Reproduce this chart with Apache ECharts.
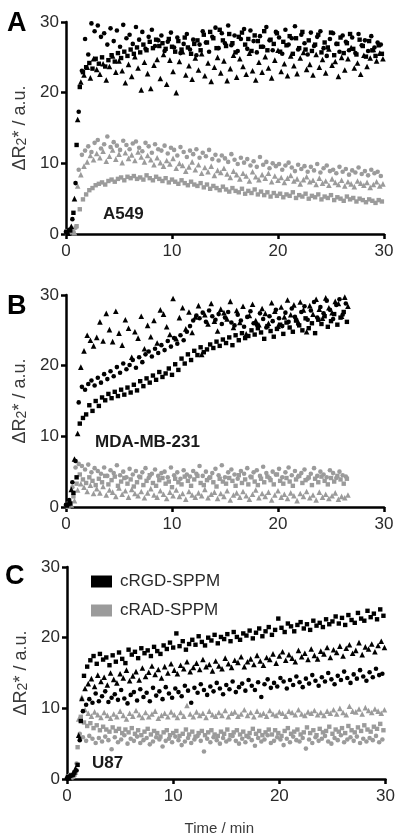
<!DOCTYPE html>
<html>
<head>
<meta charset="utf-8">
<script src="https://cdn.jsdelivr.net/npm/echarts/dist/echarts.min.js"></script>
<style>
  html, body { margin: 0; padding: 0; background: #fff; }
  #main { width: 398px; height: 839px; }
</style>
</head>
<body>
<div id="main"></div>
<script>
// sampling: one point every 0.3 min per series, markers staggered by 0.1 min
const STEP = 0.3;
const T0 = { circle: 0.0, rect: 0.1, triangle: 0.2 };

// ---- A549 ----
const blackCircleA = [
  0.3, 0.6, 2.1, 7.2, 17.3, 23.1, 27.6, 25.4, 29.8, 28.7,
  29.5, 27.9, 28.4, 26.8, 29.1, 27.3, 28.8, 26.5, 29.6, 27.7,
  28.2, 26.9, 29.3, 27.5, 28.6, 26.2, 27.9, 28.9, 26.6, 27.4,
  28.1, 25.9, 27.2, 28.5, 26.4, 27.8, 25.6, 26.9, 28.3, 26.1,
  27.5, 25.3, 26.8, 28.7, 27.1, 25.8, 27.9, 29.2, 26.3, 28.4,
  27.0, 29.5, 26.7, 28.1, 25.9, 27.6, 29.0, 26.2, 28.8, 27.3,
  25.7, 28.0, 26.5, 29.3, 27.4, 26.0, 28.6, 27.8, 25.5, 28.9,
  26.8, 27.7, 29.4, 26.1, 28.2, 27.0, 25.4, 28.5, 26.6, 27.9,
  28.7, 26.3, 25.2, 27.6, 28.4, 26.9, 25.8, 28.1, 27.2, 26.0,
  27.8, 25.6, 28.3, 26.7, 27.4, 25.9, 28.0, 26.4, 27.1, 26.8
];
const blackSquareA = [
  0.2, 0.5, 3.0, 12.6, 20.8, 22.9, 23.6, 24.2, 23.4, 24.8,
  24.1, 25.0, 23.7, 24.6, 25.3, 24.4, 25.6, 24.9, 25.8, 25.2,
  26.1, 25.5, 26.4, 25.7, 26.8, 26.0, 27.2, 26.3, 27.5, 26.6,
  27.0, 26.2, 27.6, 26.5, 25.8, 27.3, 26.1, 27.8, 26.4, 25.5,
  26.9, 27.4, 26.0, 28.2, 27.1, 28.6, 27.7, 26.3, 28.9, 27.4,
  26.6, 28.3, 27.0, 25.7, 27.9, 28.5, 26.8, 27.6, 25.9, 28.1,
  27.3, 26.5, 28.7, 26.0, 27.5, 26.9, 28.4, 25.8, 27.2, 26.7,
  28.0, 25.5, 27.7, 26.3, 28.6, 26.1, 27.4, 25.9, 26.8, 28.2,
  25.7, 27.1, 26.4, 28.5, 25.3, 26.9, 27.8, 25.6, 27.0, 28.3,
  26.2, 25.4, 27.5, 26.6, 25.1, 27.3, 26.0, 25.2, 26.7, 25.5
];
const blackTriangleA = [
  0.1, 1.1, 5.0, 16.2, 21.5, 22.5, 23.6, 22.1, 24.8, 23.3,
  22.6, 24.1, 21.8, 23.7, 25.2, 22.9, 24.5, 23.1, 21.4, 24.0,
  22.3, 25.1, 23.5, 20.4, 24.3, 22.7, 20.6, 23.9, 24.7, 22.0,
  25.4, 21.2, 24.6, 23.0, 20.0, 24.4, 25.8, 22.5, 23.8, 21.9,
  24.9, 23.2, 25.5, 22.4, 24.2, 21.6, 23.6, 25.0, 22.8, 24.5,
  21.7, 23.4, 25.3, 22.2, 24.8, 23.7, 22.6, 25.6, 23.1, 21.8,
  24.3, 22.9, 25.1, 23.5, 22.1, 24.6, 26.0, 23.0, 24.1, 22.4,
  25.2, 23.8, 22.7, 24.9, 25.7, 23.3, 24.0, 22.5, 25.4, 23.6,
  24.7, 22.8, 26.2, 23.9, 24.4, 22.3, 25.0, 23.2, 24.8, 26.4,
  23.5, 24.2, 22.6, 25.3, 23.7, 24.9, 26.1, 24.5, 25.6, 24.8
];
const grayCircleA = [
  0.4, 0.2, 0.6, 0.9, 9.1, 11.2, 11.8, 12.4, 11.6, 12.9,
  13.3, 12.1, 12.7, 13.8, 12.3, 13.0, 12.5, 11.9, 13.2, 12.6,
  12.0, 12.8, 13.1, 12.2, 11.7, 12.9, 12.4, 11.5, 12.7, 12.0,
  11.8, 12.5, 11.4, 12.2, 11.9, 11.1, 12.3, 11.6, 10.9, 11.8,
  11.3, 12.0, 10.8, 11.5, 11.0, 11.9, 10.6, 11.2, 10.4, 11.1,
  10.7, 10.2, 11.3, 10.5, 9.9, 10.8, 10.1, 10.6, 9.7, 10.3,
  9.5, 10.9, 9.8, 10.2, 9.3, 10.0, 9.6, 9.9, 9.1, 9.7,
  10.1, 9.4, 8.9, 9.8, 9.2, 9.6, 8.8, 9.5, 9.0, 9.9,
  8.7, 9.3, 9.7, 8.9, 9.1, 8.6, 9.5, 8.8, 9.2, 8.4,
  9.0, 8.7, 9.4, 8.5, 8.9, 8.3, 9.1, 8.6, 8.8, 8.2
];
const graySquareA = [
  0.1, 0.3, 0.2, 1.1, 3.5, 4.9, 5.6, 6.2, 6.5, 6.9,
  7.1, 7.3, 7.0, 7.5, 7.7, 7.4, 7.8, 8.0, 7.6, 8.1,
  7.9, 8.2, 7.8, 8.0, 7.7, 8.3, 7.9, 7.6, 8.1, 7.8,
  7.5, 7.9, 7.3, 7.7, 7.4, 7.1, 7.6, 7.2, 6.9, 7.4,
  7.0, 6.8, 7.2, 6.6, 7.0, 6.4, 6.8, 6.5, 6.2, 6.7,
  6.3, 6.0, 6.5, 6.1, 5.9, 6.4, 5.7, 6.1, 5.8, 6.3,
  5.6, 6.0, 5.5, 5.9, 5.3, 5.8, 5.4, 5.7, 5.2, 5.6,
  5.4, 5.9, 5.1, 5.5, 5.3, 5.7, 5.0, 5.4, 5.2, 5.6,
  4.9, 5.3, 5.1, 5.5, 4.8, 5.2, 5.0, 4.7, 5.3, 4.9,
  5.1, 4.6, 5.0, 4.8, 4.5, 4.9, 4.7, 4.4, 4.8, 4.6
];
const grayTriangleA = [
  0.3, 0.5, 0.2, 6.8, 8.4, 9.6, 10.2, 11.1, 10.5, 11.4,
  10.8, 11.7, 10.3, 11.0, 11.9, 10.6, 11.3, 10.1, 11.5, 10.7,
  11.2, 10.4, 11.6, 10.9, 10.2, 11.1, 10.5, 9.8, 10.8, 10.1,
  9.6, 10.4, 9.9, 10.7, 9.3, 10.0, 9.7, 8.9, 9.5, 10.2,
  9.1, 9.8, 8.6, 9.4, 8.8, 9.6, 8.3, 9.0, 8.7, 9.3,
  8.5, 8.0, 8.9, 8.4, 7.8, 8.6, 8.2, 7.5, 8.8, 8.1,
  7.7, 8.4, 7.9, 8.6, 7.4, 8.2, 7.6, 8.0, 7.3, 7.9,
  8.3, 7.5, 7.8, 7.1, 7.7, 8.1, 7.4, 7.6, 7.0, 7.9,
  7.2, 7.5, 6.9, 7.8, 7.3, 7.0, 7.6, 6.8, 7.4, 7.1,
  6.7, 7.5, 7.2, 6.9, 7.3, 6.6, 7.0, 7.4, 6.8, 7.1
];

// ---- MDA-MB-231 (recording stops ~26.6 min) ----
const blackCircleB = [
  0.3, 1.0, 3.5, 6.5, 14.8, 17.0, 16.6, 17.4, 17.9, 17.2,
  18.3, 17.6, 18.8, 18.1, 19.2, 18.5, 19.8, 19.0, 20.3, 19.5,
  20.1, 20.8, 19.7, 21.2, 20.5, 21.6, 22.0, 21.3, 22.4, 21.8,
  22.9, 22.2, 23.5, 22.7, 23.9, 23.1, 24.3, 23.6, 24.8, 25.6,
  26.4, 27.1, 26.7, 27.5, 26.2, 27.8, 27.0, 26.5, 27.3, 25.9,
  26.8, 27.6, 26.1, 25.7, 27.2, 26.4, 25.5, 26.9, 27.7, 26.0,
  25.8, 27.4, 26.6, 25.4, 27.0, 26.3, 27.9, 26.7, 25.6, 27.5,
  26.2, 28.1, 26.9, 25.9, 27.6, 28.4, 26.5, 27.8, 29.0, 26.8,
  28.3, 27.4, 29.2, 27.9, 26.6, 28.6, 29.4, 27.2, 28.8
];
const blackSquareB = [
  0.2, 0.5, 2.0, 4.2, 11.8, 12.6, 13.1, 14.4, 13.6, 15.0,
  14.3, 15.5, 15.1, 16.0, 15.4, 16.3, 15.7, 16.6, 15.9, 16.9,
  16.2, 17.3, 16.5, 17.8, 17.1, 18.2, 17.6, 18.6, 18.0, 19.1,
  18.4, 18.9, 19.6, 18.7, 20.2, 19.4, 21.0, 20.3, 21.6, 20.8,
  22.1, 21.5, 22.6, 21.9, 22.3, 23.0, 22.5, 23.4, 22.8, 23.7,
  23.2, 24.0, 22.9, 24.3, 23.6, 24.6, 23.9, 24.2, 25.0, 24.4,
  25.3, 24.7, 23.8, 25.6, 24.9, 24.1, 25.2, 25.8, 24.5, 26.1,
  25.4, 24.8, 26.4, 25.7, 25.0, 26.7, 25.3, 26.0, 24.6, 26.5,
  25.9, 27.0, 25.5, 26.3, 27.3, 25.8, 26.8, 27.6, 26.2
];
const blackTriangleB = [
  0.5, 2.5, 6.8, 10.4, 19.8, 22.1, 24.3, 23.6, 22.8, 24.0,
  26.2, 23.5, 27.4, 25.1, 23.4, 27.7, 24.6, 22.9, 26.5, 25.3,
  21.2, 24.8, 23.9, 27.0, 22.4, 25.7, 24.1, 26.4, 23.2, 27.9,
  27.3, 25.5, 24.4, 29.5, 23.8, 26.8, 28.2, 25.2, 27.6, 24.7,
  26.9, 28.5, 21.6, 27.2, 25.9, 28.8, 26.3, 24.9, 28.0, 27.5,
  26.6, 29.1, 25.4, 27.8, 26.1, 28.4, 24.5, 27.1, 28.7, 26.4,
  25.8, 28.1, 27.4, 26.0, 28.9, 27.7, 25.6, 28.3, 26.9, 29.3,
  27.2, 28.6, 26.5, 29.0, 27.9, 24.8, 28.5, 27.3, 29.4, 28.0,
  26.7, 29.6, 28.2, 27.5, 29.1, 28.8, 27.0, 29.7, 28.4
];
const grayCircleB = [
  0.3, 0.8, 2.8, 5.6, 6.1, 5.8, 5.3, 6.0, 4.9, 5.5,
  5.1, 4.7, 5.6, 4.4, 5.2, 4.8, 5.9, 4.5, 5.0, 4.2,
  5.4, 4.6, 5.1, 4.3, 4.9, 5.5, 4.1, 4.7, 5.3, 4.4,
  4.8, 5.0, 4.2, 5.6, 4.5, 4.9, 4.0, 5.2, 4.6, 4.3,
  5.1, 4.7, 5.8, 4.4, 5.0, 4.1, 4.8, 5.4, 4.5, 5.9,
  4.2, 4.9, 5.3, 4.6, 4.0, 5.1, 4.7, 5.5, 4.3, 4.9,
  5.2, 4.4, 5.7, 4.8, 4.1, 5.0, 4.6, 5.4, 4.2, 4.9,
  5.6, 4.5, 5.1, 4.3, 4.8, 5.3, 4.0, 4.7, 5.5, 4.4,
  5.0, 4.6, 4.2, 5.2, 4.8, 4.1, 5.0, 4.5, 4.3
];
const graySquareB = [
  0.2, 0.5, 1.5, 3.3, 4.6, 3.9, 3.4, 4.2, 3.7, 3.1,
  4.0, 3.5, 4.4, 3.2, 3.8, 4.3, 3.0, 3.6, 4.1, 3.3,
  3.9, 2.9, 3.5, 4.2, 3.1, 3.7, 4.5, 3.4, 3.0, 3.8,
  4.1, 3.3, 3.6, 2.8, 4.0, 3.5, 3.2, 4.3, 3.7, 3.0,
  3.9, 4.4, 3.4, 3.1, 3.8, 4.2, 3.5, 2.9, 4.0, 3.6,
  3.3, 4.1, 3.7, 3.0, 4.5, 3.4, 3.9, 3.2, 4.2, 3.6,
  3.1, 4.0, 3.5, 4.3, 3.8, 3.2, 4.6, 3.7, 3.3, 4.1,
  3.6, 3.0, 3.9, 4.4, 3.4, 3.8, 4.2, 3.1, 4.0, 3.5,
  4.3, 3.7, 3.2, 4.1, 3.6, 4.4, 3.9, 3.3, 4.0
];
const grayTriangleB = [
  0.1, 0.3, 0.9, 2.4, 3.3, 2.8, 2.2, 3.1, 1.9, 2.6,
  2.0, 2.9, 1.7, 2.4, 2.1, 1.5, 2.7, 1.8, 2.3, 1.4,
  2.5, 1.9, 1.6, 2.2, 1.3, 2.0, 2.6, 1.7, 1.4, 2.3,
  1.8, 1.2, 2.1, 1.6, 2.4, 1.5, 1.9, 1.1, 2.2, 1.7,
  1.4, 2.0, 1.6, 2.5, 1.3, 1.8, 2.1, 1.2, 1.9, 1.5,
  2.3, 1.0, 1.7, 2.0, 1.4, 2.2, 1.6, 1.1, 1.8, 2.4,
  1.3, 1.9, 1.5, 2.1, 1.0, 1.7, 2.3, 1.4, 1.8, 1.2,
  2.0, 1.6, 0.9, 1.9, 1.5, 2.2, 1.3, 1.7, 1.0, 2.1,
  1.4, 1.8, 1.2, 1.6, 2.0, 1.1, 1.5, 1.3, 1.7
];

// ---- U87 ----
const blackCircleC = [
  0.1, 0.4, 0.6, 1.2, 5.5, 9.6, 10.5, 11.3, 10.8, 12.1,
  11.0, 11.7, 12.4, 10.9, 11.5, 12.0, 11.2, 12.6, 11.4, 10.7,
  11.9, 12.3, 11.1, 12.7, 11.6, 12.2, 11.0, 12.9, 11.8, 12.4,
  11.3, 13.0, 12.1, 11.5, 12.8, 12.3, 11.7, 13.2, 12.5, 10.8,
  12.9, 12.2, 13.4, 12.6, 11.9, 13.1, 12.4, 13.6, 12.8, 12.0,
  13.3, 12.7, 13.8, 12.3, 13.0, 13.5, 12.5, 14.0, 13.2, 12.6,
  13.7, 11.6, 13.4, 14.1, 12.9, 13.6, 13.1, 14.3, 13.8, 12.8,
  14.0, 13.3, 14.5, 13.7, 13.0, 14.2, 13.5, 14.7, 13.9, 13.2,
  14.4, 13.8, 15.0, 14.1, 13.4, 14.6, 14.0, 15.2, 14.3, 13.6,
  14.8, 14.2, 15.4, 14.5, 13.9, 15.1, 14.4, 15.6, 14.7, 14.9
];
const blackSquareC = [
  0.3, 0.5, 0.9, 2.0, 8.2, 14.6, 15.9, 16.8, 17.4, 16.3,
  17.7, 16.9, 17.2, 16.1, 17.5, 16.6, 17.9, 17.0, 16.4, 18.3,
  17.6, 18.0, 17.1, 18.5, 17.8, 18.2, 17.4, 18.7, 18.1, 17.7,
  18.9, 18.4, 19.3, 18.6, 20.6, 18.8, 19.5, 18.3, 19.1, 19.7,
  19.0, 20.2, 19.4, 18.9, 20.0, 19.6, 20.4, 19.2, 20.1, 19.8,
  20.5, 19.5, 20.8, 20.1, 19.7, 20.6, 20.3, 21.0, 19.9, 20.7,
  21.3, 20.2, 20.9, 21.5, 20.4, 21.1, 22.7, 21.4, 20.8, 22.0,
  21.6, 20.9, 21.8, 22.2, 21.3, 21.9, 21.1, 22.4, 21.7, 22.1,
  21.5, 22.6, 21.9, 22.3, 23.0, 22.0, 22.8, 21.8, 23.2, 22.5,
  22.1, 23.5, 22.7, 22.4, 23.8, 22.9, 23.4, 22.6, 24.0, 23.1
];
const blackTriangleC = [
  0.2, 0.7, 1.5, 6.2, 11.4, 12.8, 13.5, 14.2, 13.1, 14.7,
  13.8, 14.4, 13.3, 15.0, 14.1, 13.6, 14.9, 14.3, 15.4, 13.9,
  14.6, 15.2, 14.0, 15.7, 14.5, 15.1, 16.0, 14.8, 15.5, 14.3,
  15.9, 15.0, 16.3, 15.4, 14.9, 16.1, 15.6, 16.6, 15.2, 15.8,
  16.4, 15.5, 16.9, 15.9, 16.2, 15.3, 16.7, 16.0, 15.6, 17.1,
  16.3, 15.8, 16.8, 16.5, 17.3, 15.9, 16.6, 17.0, 16.2, 17.5,
  16.7, 16.1, 17.2, 16.9, 17.7, 16.4, 17.4, 18.0, 16.8, 17.6,
  17.1, 16.6, 18.2, 17.3, 17.8, 16.9, 18.4, 17.5, 17.0, 18.1,
  17.7, 18.6, 17.2, 18.3, 17.9, 18.8, 17.4, 18.5, 19.0, 17.8,
  18.2, 19.3, 17.6, 18.7, 18.4, 19.1, 18.0, 18.9, 19.5, 18.6
];
const grayCircleC = [
  0.2, 0.6, 0.3, 2.2, 6.4, 5.9, 5.4, 6.1, 5.7, 5.1,
  5.8, 5.3, 6.0, 5.5, 4.2, 5.9, 5.2, 5.6, 6.2, 5.0,
  5.7, 5.4, 6.0, 5.1, 5.5, 5.8, 4.9, 5.3, 5.9, 5.6,
  4.6, 5.4, 5.7, 5.2, 6.0, 5.5, 4.8, 5.3, 5.8, 5.1,
  5.6, 6.1, 5.4, 3.9, 5.7, 5.2, 5.9, 5.5, 5.0, 5.8,
  5.3, 5.6, 6.1, 5.4, 5.0, 5.7, 5.2, 5.9, 5.5, 4.7,
  5.8, 5.3, 5.6, 6.2, 5.1, 5.4, 5.9, 5.6, 4.8, 5.7,
  5.2, 6.0, 5.5, 5.3, 5.8, 4.3, 5.6, 5.1, 5.9, 5.4,
  5.7, 6.1, 5.3, 5.0, 5.8, 5.5, 6.2, 5.2, 5.6, 5.9,
  5.4, 6.0, 5.1, 5.7, 5.3, 5.8, 5.5, 6.1, 5.2, 5.6
];
const graySquareC = [
  0.4, 0.2, 0.6, 4.5, 8.8, 8.0, 7.5, 7.9, 7.2, 7.6,
  6.9, 7.4, 7.0, 6.7, 7.3, 6.8, 7.1, 6.5, 7.0, 6.6,
  7.2, 6.4, 6.9, 6.2, 6.7, 7.1, 6.3, 6.8, 6.5, 6.0,
  6.6, 6.9, 6.2, 6.5, 6.8, 6.1, 6.4, 7.0, 6.3, 6.7,
  6.0, 6.5, 6.8, 6.2, 6.6, 6.9, 6.3, 6.1, 6.7, 6.4,
  7.0, 6.2, 6.6, 6.9, 6.3, 6.7, 6.1, 6.5, 7.1, 6.4,
  6.8, 6.2, 6.6, 7.0, 6.3, 6.9, 6.5, 6.1, 6.8, 7.2,
  6.4, 6.7, 7.0, 6.3, 6.6, 7.3, 6.5, 6.9, 6.2, 7.1,
  6.6, 6.8, 7.4, 6.4, 7.0, 6.7, 7.2, 6.5, 7.5, 6.9,
  6.6, 7.3, 6.8, 7.6, 7.0, 6.7, 7.4, 7.1, 7.8, 6.9
];
const grayTriangleC = [
  0.3, 0.5, 1.0, 8.5, 11.6, 9.8, 9.3, 8.9, 9.5, 9.1,
  8.7, 9.4, 9.0, 8.6, 9.2, 8.8, 9.6, 9.0, 8.5, 9.3,
  8.9, 9.7, 9.1, 8.7, 9.4, 8.8, 9.2, 9.6, 8.6, 9.0,
  9.3, 8.8, 9.5, 9.1, 8.7, 9.4, 8.9, 10.4, 9.2, 8.8,
  9.5, 9.0, 9.3, 8.7, 9.6, 9.1, 8.9, 9.4, 9.0, 9.7,
  8.8, 9.3, 9.5, 8.9, 9.2, 9.8, 9.0, 9.4, 8.8, 9.6,
  9.1, 9.3, 8.9, 9.7, 9.2, 9.0, 9.5, 9.3, 8.9, 9.6,
  9.4, 9.1, 9.8, 9.2, 9.0, 9.5, 9.3, 9.7, 9.1, 9.4,
  9.0, 9.6, 9.3, 9.8, 9.2, 10.0, 9.4, 9.1, 10.3, 9.6,
  9.5, 9.9, 9.2, 10.1, 9.7, 9.4, 9.9, 9.6, 9.3, 9.8
];

const panelLetters = ['A', 'B', 'C'];
const cellLines = ['A549', 'MDA-MB-231', 'U87'];
const groups = ['cRGD-SPPM', 'cRAD-SPPM'];
const xTicks = [0, 10, 20, 30];
const yTicks = [0, 10, 20, 30];

const panels = [
  { black: { circle: blackCircleA, rect: blackSquareA, triangle: blackTriangleA },
    gray:  { circle: grayCircleA,  rect: graySquareA,  triangle: grayTriangleA } },
  { black: { circle: blackCircleB, rect: blackSquareB, triangle: blackTriangleB },
    gray:  { circle: grayCircleB,  rect: graySquareB,  triangle: grayTriangleB } },
  { black: { circle: blackCircleC, rect: blackSquareC, triangle: blackTriangleC },
    gray:  { circle: grayCircleC,  rect: graySquareC,  triangle: grayTriangleC } }
];

const FONT = 'Liberation Sans, Arial, sans-serif';
const colors = { black: '#000000', gray: '#9b9b9b' };
const sizes = { circle: 4.6, rect: 4.4, triangle: 5.6 };

function toPoints(vals, t0) {
  return vals.map(function (v, i) {
    return [Math.round((t0 + i * STEP) * 100) / 100, v];
  });
}

const gridBoxes = [
  { left: 66, top: 22, width: 318, height: 212 },
  { left: 66, top: 295, width: 318, height: 212 },
  { left: 67, top: 567, width: 319, height: 212 }
];

const xAxes = [], yAxes = [], series = [];
gridBoxes.forEach(function (g, k) {
  xAxes.push({
    type: 'value', gridIndex: k, min: xTicks[0], max: xTicks[xTicks.length - 1], interval: 10,
    splitLine: { show: false },
    axisLine: { lineStyle: { color: '#000', width: 2.5 } },
    axisTick: { length: 5, lineStyle: { color: '#000', width: 2.5 } },
    axisLabel: { color: '#2a2a2a', fontSize: 17, fontFamily: FONT, margin: 9 },
    name: k === 2 ? 'Time / min' : '',
    nameLocation: 'middle', nameGap: 42,
    nameTextStyle: { color: '#3a3a3a', fontSize: 15, fontFamily: FONT, padding: [0, 14, 0, 0] }
  });
  yAxes.push({
    type: 'value', gridIndex: k, min: yTicks[0], max: yTicks[yTicks.length - 1], interval: 10,
    splitLine: { show: false },
    axisLine: { lineStyle: { color: '#000', width: 2.5 } },
    axisTick: { length: 5, lineStyle: { color: '#000', width: 2.5 } },
    axisLabel: { color: '#2a2a2a', fontSize: 17, fontFamily: FONT, margin: 7 },
    name: '{a|ΔR}{s|2}{a|* / a.u.}',
    nameLocation: 'middle', nameGap: 29, nameRotate: 90,
    nameTextStyle: {
      rich: {
        a: { color: '#3a3a3a', fontSize: 18, fontFamily: FONT },
        s: { color: '#3a3a3a', fontSize: 14, fontFamily: FONT, padding: [5, 0, 0, 0] }
      }
    }
  });
  ['gray', 'black'].forEach(function (shade) {
    ['circle', 'rect', 'triangle'].forEach(function (sym) {
      series.push({
        type: 'scatter',
        name: shade === 'black' ? groups[0] : groups[1],
        xAxisIndex: k, yAxisIndex: k,
        symbol: sym, symbolSize: sizes[sym],
        itemStyle: { color: colors[shade], opacity: 1 },
        data: toPoints(panels[k][shade][sym], T0[sym])
      });
    });
  });
});

const graphics = [];
const letterPos = [[7, 10], [7, 293], [5, 563]];
panelLetters.forEach(function (t, k) {
  graphics.push({ type: 'text', left: letterPos[k][0], top: letterPos[k][1],
    style: { text: t, font: 'bold 27px ' + FONT, fill: '#000' } });
});
const linePos = [[103, 206], [95, 434], [92, 755]];
cellLines.forEach(function (t, k) {
  graphics.push({ type: 'text', left: linePos[k][0], top: linePos[k][1],
    style: { text: t, font: 'bold 17px ' + FONT, fill: '#1a1a1a' } });
});

const chart = echarts.init(document.getElementById('main'));
chart.setOption({
  animation: false,
  backgroundColor: '#fff',
  grid: gridBoxes,
  xAxis: xAxes,
  yAxis: yAxes,
  legend: {
    orient: 'vertical', left: 86, top: 568,
    itemWidth: 21, itemHeight: 12, itemGap: 12,
    textStyle: { fontSize: 17, color: '#2a2a2a', fontFamily: FONT, padding: [0, 0, 0, 3] },
    data: [{ name: groups[0], icon: 'rect' }, { name: groups[1], icon: 'rect' }]
  },
  graphic: graphics,
  series: series
});
</script>
</body>
</html>
